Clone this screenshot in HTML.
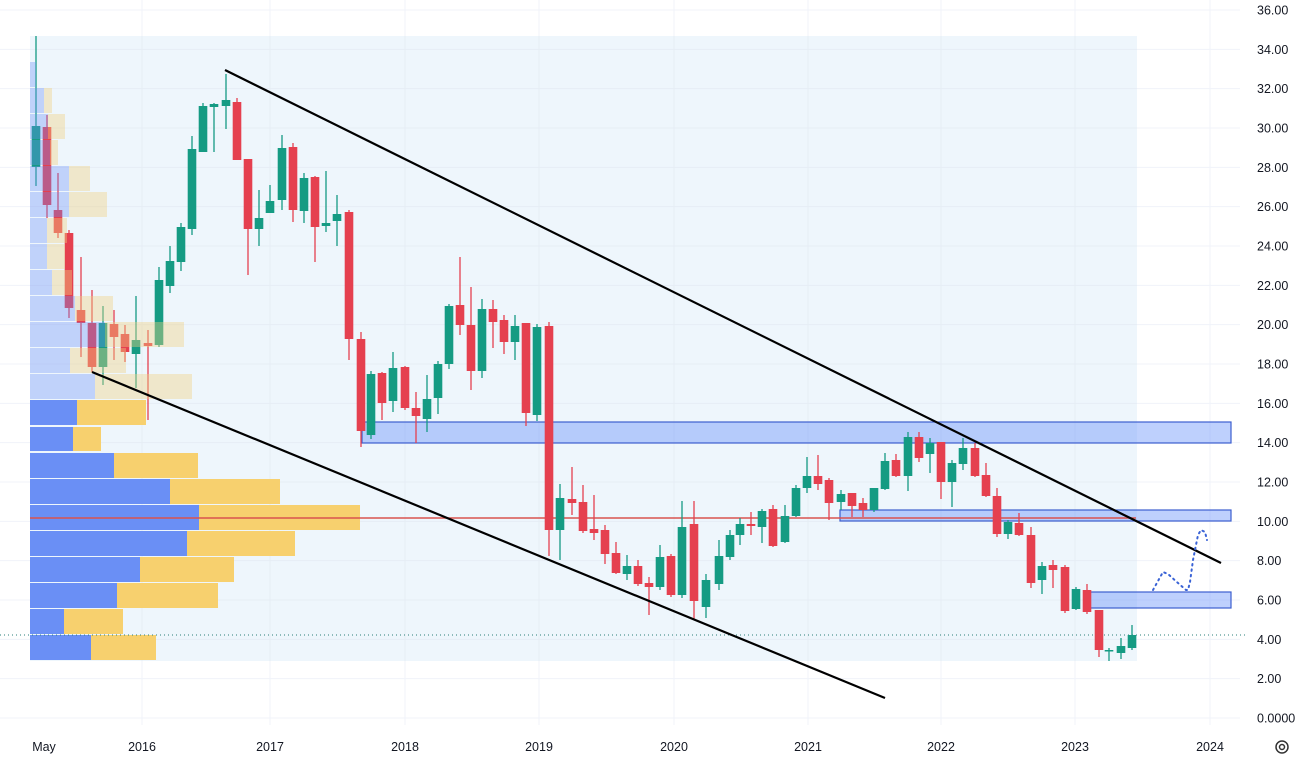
<!DOCTYPE html>
<html><head><meta charset="utf-8"><style>
html,body{margin:0;padding:0;background:#fff;}
svg{display:block;font-family:"Liberation Sans",sans-serif;}
</style></head><body>
<svg id="s" width="1300" height="763" xmlns="http://www.w3.org/2000/svg">
<g id="grid" stroke="#f0f3fa" stroke-width="1"></g>
<rect x="30" y="36" width="1107" height="625" fill="#eef6fc"/>
<g id="grid2" stroke="#e6edf5" stroke-width="1"></g>
<g id="prof"></g>
<rect x="362" y="422" width="869" height="21" fill="rgba(110,150,250,0.45)" stroke="#3d5fcf" stroke-width="1.2"/>
<rect x="840" y="510" width="391" height="11" fill="rgba(110,150,250,0.45)" stroke="#3d5fcf" stroke-width="1.2"/>
<rect x="1087" y="592" width="144" height="16" fill="rgba(110,150,250,0.45)" stroke="#3d5fcf" stroke-width="1.2"/>
<line x1="30" y1="518" x2="1136" y2="518" stroke="#d9534f" stroke-width="1.5"/>
<line x1="0" y1="635" x2="1248" y2="635" stroke="#2a7f78" stroke-width="1" stroke-dasharray="1,3"/>
<g id="c"></g>
<g id="prof2"></g>
<line x1="225" y1="70" x2="1221" y2="563" stroke="#000" stroke-width="2.2"/>
<line x1="92" y1="372" x2="885" y2="698" stroke="#000" stroke-width="2.2"/>
<polyline points="1153,590 1163,572 1168,574 1178,583 1186,590 1188,590 1190,582 1193,560 1196,545 1198,535 1201,530 1205,532 1207,540" fill="none" stroke="#3a63d6" stroke-width="2" stroke-dasharray="1.5,4" stroke-linecap="round"/>
<g id="ax" font-size="12.5" fill="#131722"></g>
<circle cx="1282" cy="747" r="6" fill="none" stroke="#333" stroke-width="1.5"/>
<circle cx="1282" cy="747" r="2.5" fill="none" stroke="#333" stroke-width="1.5"/>
</svg>
<script>
var NS="http://www.w3.org/2000/svg";
function el(p,t,a,txt){var e=document.createElementNS(NS,t);for(var k in a)e.setAttribute(k,a[k]);if(txt)e.textContent=txt;document.getElementById(p).appendChild(e);return e;}
function Y(v){return 718-19.667*v;}
for(var v=0;v<=36;v+=2){var y=Y(v);el('grid','line',{x1:0,y1:y,x2:1240,y2:y});el('ax','text',{x:1257,y:y+4.5},v==0?'0.0000':(v<10?' ':'')+v.toFixed(2));}
var yrs=[[44,'May'],[142,'2016'],[270,'2017'],[405,'2018'],[539,'2019'],[674,'2020'],[808,'2021'],[941,'2022'],[1075,'2023'],[1210,'2024']];
yrs.forEach(function(d,i){if(i>0)el('grid','line',{x1:d[0],y1:0,x2:d[0],y2:725});el('ax','text',{x:d[0],y:751,'text-anchor':'middle'},d[1]);});
for(var v=0;v<=36;v+=2){var y=Y(v);if(y>36&&y<661)el('grid2','line',{x1:30,y1:y,x2:1137,y2:y});}
yrs.forEach(function(d,i){if(i>0&&d[0]<1137)el('grid2','line',{x1:d[0],y1:36,x2:d[0],y2:661});});
// solid profile
var solid=[[400,425,77,146],[427,451,73,101],[453,478,114,198],[479,504,170,280],[505,530,199,360],[531,556,187,295],[557,582,140,234],[583,608,117,218],[609,634,64,123],[635,660,91,156]];
solid.forEach(function(r){el('prof','rect',{x:30,y:r[0],width:r[2]-30,height:r[1]-r[0],fill:'#6a8ff5'});el('prof','rect',{x:r[2],y:r[0],width:r[3]-r[2],height:r[1]-r[0],fill:'#f7d06e'});});
var light=[[62,87,36,36],[88,113,44,52],[114,139,48,65],[140,165,50,58],[166,191,69,90],[192,217,69,107],[218,243,47,67],[244,269,47,65],[270,295,52,72],[296,321,75,113],[322,347,105,184],[348,373,70,126],[374,399,95,192]];
light.forEach(function(r){el('prof2','rect',{x:30,y:r[0],width:r[2]-30,height:r[1]-r[0],fill:'rgba(106,143,245,0.35)'});if(r[3]>r[2])el('prof2','rect',{x:r[2],y:r[0],width:r[3]-r[2],height:r[1]-r[0],fill:'rgba(240,210,130,0.4)'});});
var C=[
[36,126,167,36,186,1],[47,127,205,115,218,0],[58,210,233,173,238,0],[69,233,308,230,318,0],[81,310,323,257,357,0],[92,323,367,290,372,0],[103,323,367,306,385,1],[114,324,337,310,360,0],[125,334,352,325,362,0],[136,340,354,296,388,1],[148,343,346,330,420,0],
[159,280,345,267,347,1],[170,261,286,246,293,1],[181,227,262,223,271,1],[192,149,229,136,235,1],[203,106,152,103,152,1],[214,104,107,103,152,1],[226,100,106,74,129,1],[237,102,160,98,160,0],[248,159,229,159,275,0],[259,218,229,190,246,1],[270,201,213,185,213,1],[282,148,200,135,210,1],[293,147,210,143,222,0],[304,178,211,173,223,1],[315,177,227,176,262,0],[326,223,226,171,232,1],[337,214,221,195,246,1],[349,212,339,210,360,0],
[361,339,431,332,447,0],[371,374,435,371,439,1],[382,373,403,372,420,0],[393,368,401,352,412,1],[405,367,408,366,410,0],[416,408,416,392,443,0],[427,399,419,375,432,1],[438,364,398,361,414,1],[449,306,364,304,369,1],[460,305,325,257,335,0],[471,325,371,287,390,0],[482,309,371,299,378,1],[493,309,322,300,348,0],[504,320,342,315,354,0],[515,326,342,315,360,1],[526,323,413,323,426,0],[537,327,415,324,421,1],[549,326,530,322,556,0],
[560,498,530,484,560,1],[572,499,503,467,515,0],[583,502,531,485,533,0],[594,529,533,495,540,0],[605,530,554,525,564,0],[616,553,573,542,574,0],[627,566,574,555,580,1],[638,566,584,560,586,0],[649,583,587,577,615,0],[660,557,587,545,590,1],[671,556,595,554,597,0],[682,527,595,501,598,1],[694,524,601,501,620,0],[706,580,607,574,618,1],[719,556,584,540,590,1],
[730,535,557,530,560,1],[740,524,535,518,545,1],[751,524,526,512,535,0],[762,511,527,509,543,1],[773,509,546,505,547,0],[785,516,542,505,543,1],[796,488,516,485,517,1],[807,476,488,457,493,1],[818,476,484,455,490,0],[829,480,503,478,520,0],[841,494,502,490,510,1],[852,493,506,493,517,0],[863,503,510,498,517,0],[874,488,510,488,512,1],[885,461,489,453,490,1],[896,460,476,454,477,0],[908,437,476,432,491,1],[919,437,458,432,462,0],[930,443,454,438,473,1],[941,442,482,442,499,0],[952,463,482,460,507,1],[963,448,464,438,470,1],[975,448,476,443,477,0],[986,475,496,463,497,0],[997,496,534,488,537,0],[1008,522,534,520,539,1],[1019,523,535,513,536,0],[1031,535,583,527,588,0],[1042,566,580,562,594,1],[1053,565,570,560,588,0],[1065,567,611,565,613,0],[1076,589,609,587,610,1],[1087,590,612,584,614,0],[1099,610,650,610,657,0],[1109,650,651,648,661,1],[1121,646,653,638,659,1],[1132,635,648,625,650,1]];
C.forEach(function(d){var col=d[5]?'#159b83':'#e5404f';el('c','line',{x1:d[0],y1:d[3],x2:d[0],y2:d[4],stroke:col,'stroke-width':1.3});var h=Math.max(d[2]-d[1],1.5);el('c','rect',{x:d[0]-4.3,y:d[1],width:8.6,height:h,fill:col});});
</script>
</body></html>
